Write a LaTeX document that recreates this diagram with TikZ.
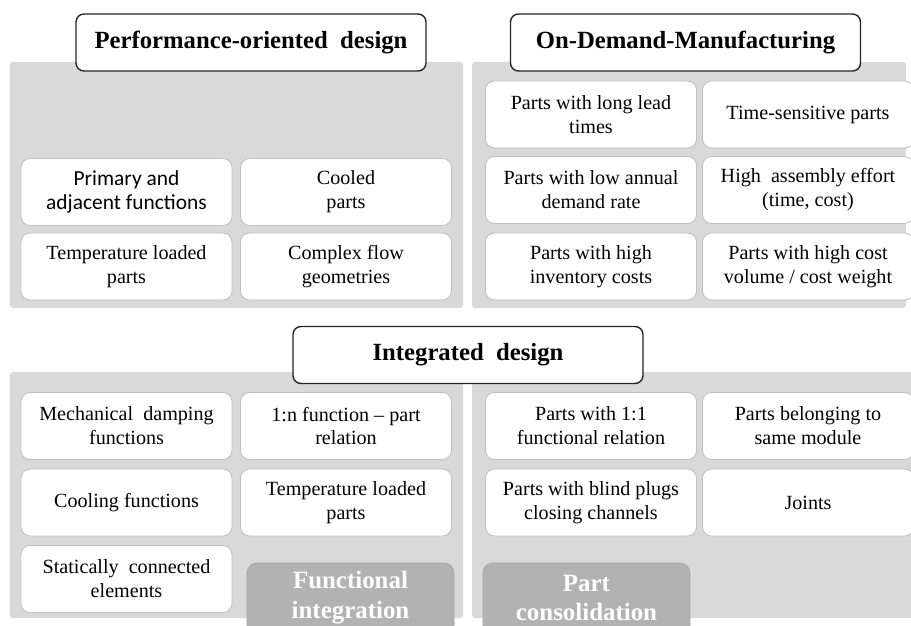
\documentclass[tikz,border=0pt]{standalone}
\usepackage{fontspec}
\setmainfont{Liberation Serif}
\newfontfamily\calfont{Carlito}
\definecolor{panelgray}{HTML}{D9D9D9}
\definecolor{cellline}{HTML}{BFBFBF}
\definecolor{labelgray}{HTML}{B2B2B2}
\definecolor{labelline}{HTML}{A8A8A8}
\definecolor{headline}{HTML}{262626}
\tikzset{
  panel/.style={fill=panelgray, draw=none, rounded corners=3bp, inner sep=0pt},
  cellbox/.style={fill=white, draw=cellline, line width=0.8bp, rounded corners=9bp,
    align=center, inner sep=0pt, minimum width=211bp, minimum height=67bp,
    font=\fontsize{20.2}{24}\selectfont},
  headbox/.style={fill=white, draw=headline, line width=1.4bp, rounded corners=8bp,
    inner sep=0pt, minimum width=350bp, minimum height=57bp,
    font=\fontsize{24.8}{28}\selectfont\bfseries},
  labelbox/.style={fill=labelgray, draw=labelline, line width=0.8bp, rounded corners=10bp,
    inner sep=0pt, minimum width=207bp, minimum height=80bp},
  labeltext/.style={text=white, font=\fontsize{25}{30}\selectfont\bfseries, align=center}
}
\begin{document}
\begin{tikzpicture}[x=1bp, y=-1bp]
\useasboundingbox (0,0) rectangle (911,626);
\clip (0,0) rectangle (911,626);
\fill[white] (0,0) rectangle (911,626);
% panels
\node[panel, minimum width=453bp, minimum height=246bp] (pTL) at (236.5,185) {};
\node[panel, minimum width=434bp, minimum height=246bp] (pTR) at (689,185) {};
\node[panel, minimum width=453bp, minimum height=246bp] (pBL) at (236.5,495) {};
\node[panel, minimum width=450bp, minimum height=246bp] (pBR) at (697,495) {};
% headers
\node[headbox] (hPerf) at (251,42.5) {Performance-oriented\ \ design};
\node[headbox] (hODM) at (685.5,42.5) {On-Demand-Manufacturing};
\node[headbox] (hInt) at (468,355) {Integrated\ \ design};
% top-left cells
\node[cellbox, font=\calfont\fontsize{21.5}{24}\selectfont] (c11) at (126.5,192) {Primary and\\adjacent functions};
\node[cellbox] (c12) at (346,192) {Cooled\\parts};
\node[cellbox] (c21) at (126.5,266.5) {Temperature loaded\\parts};
\node[cellbox] (c22) at (346,266.5) {Complex flow\\geometries};
% top-right cells
\node[cellbox] (d11) at (591,114.5) {Parts with long lead\\times};
\node[cellbox] (d12) at (808,114.5) {Time-sensitive parts};
\node[cellbox] (d21) at (591,190) {Parts with low annual\\demand rate};
\node[cellbox] (d22) at (808,190) {High\ \ assembly effort\\(time, cost)};
\node[cellbox] (d31) at (591,266.5) {Parts with high\\inventory costs};
\node[cellbox] (d32) at (808,266.5) {Parts with high cost\\volume / cost weight};
% bottom-left cells
\node[cellbox] (e11) at (126.5,426) {Mechanical\ \ damping\\functions};
\node[cellbox] (e12) at (346,426) {1:n function -- part\\relation};
\node[cellbox] (e21) at (126.5,502.5) {Cooling functions};
\node[cellbox] (e22) at (346,502.5) {Temperature loaded\\parts};
\node[cellbox] (e31) at (126.5,579) {Statically\ \ connected\\elements};
\node[labelbox] (lFI) at (350.5,603) {};
\node[labeltext] (tFI) at (350.5,598) {Functional\\integration};
% bottom-right cells
\node[cellbox] (f11) at (591,426) {Parts with 1:1\\functional relation};
\node[cellbox] (f12) at (808,426) {Parts belonging to\\same module};
\node[cellbox] (f21) at (591,502.5) {Parts with blind plugs\\closing channels};
\node[cellbox] (f22) at (808,502.5) {Joints};
\node[labelbox] (lPC) at (586.5,603) {};
\node[labeltext] (tPC) at (586.5,598) {Part\\consolidation};
\end{tikzpicture}
\end{document}
